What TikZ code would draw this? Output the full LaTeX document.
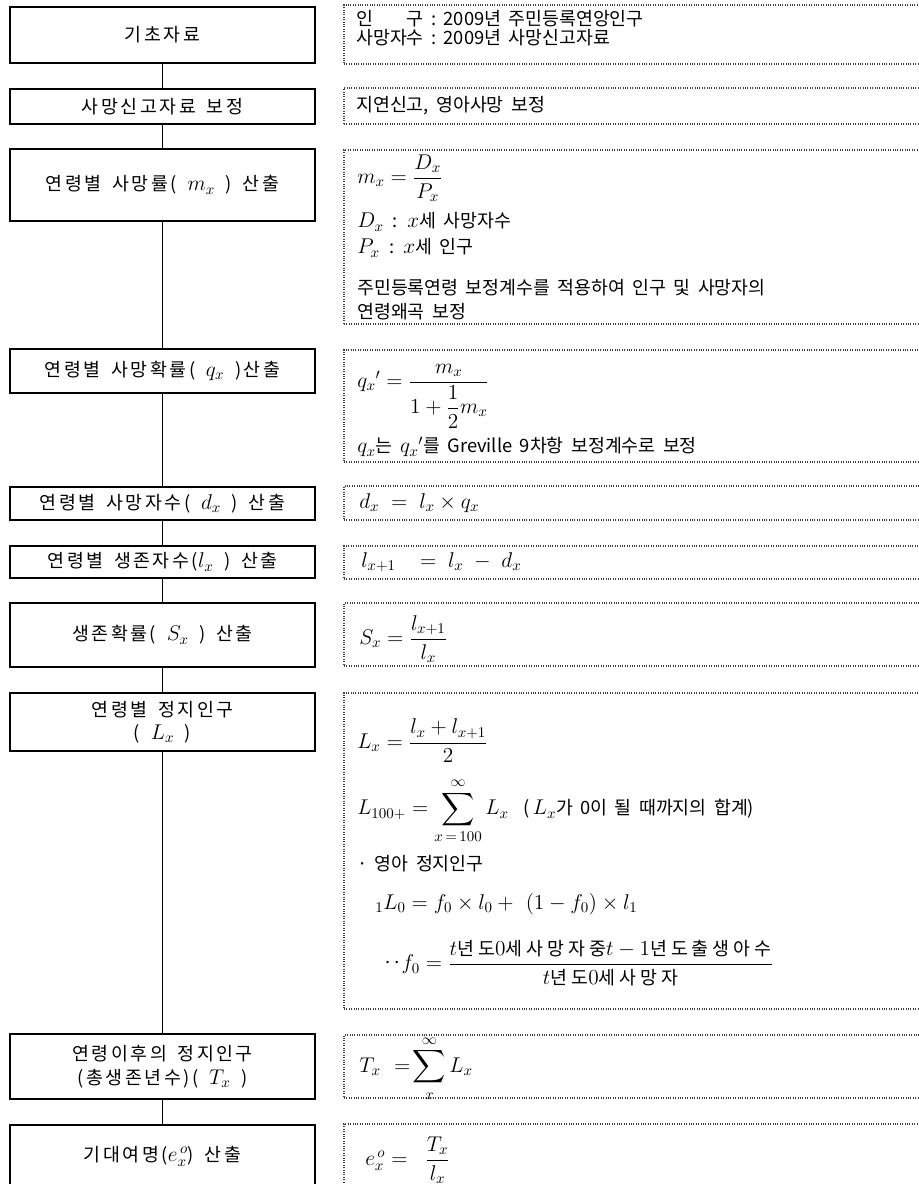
\RequirePackage{fix-cm}
\documentclass[tikz,border=0pt]{standalone}
\usepackage{amsmath}
\usepackage{fontspec}
\newfontfamily\kr{Noto Sans CJK KR}[Scale=0.86,WordSpace=1.8]
\newfontfamily\krw{Noto Sans CJK KR}[Scale=0.86,LetterSpace=14,WordSpace=1.6]
\newfontfamily\krf{Noto Sans CJK KR}[Scale=0.86,LetterSpace=22]
\usetikzlibrary{fit}
\begin{document}
\begin{tikzpicture}[x=0.75pt,y=-0.75pt,
  every node/.style={font=\fontsize{16}{18}\selectfont\kr},
  lbox/.style={draw, line width=1.1pt, inner sep=0pt, align=center,
    minimum width=228.75pt, font=\fontsize{16}{17.5}\selectfont\krw},
  ht/.style={minimum height=#1*0.75pt},
  rbox/.style={draw=black!75, densely dotted, line width=0.8pt, inner sep=0pt},
  txt/.style={anchor=west, inner sep=0pt},
  conn/.style={line width=1pt}]
\useasboundingbox (0,0) rectangle (919,1184);
\clip (0,0) rectangle (919,1184);

% left boxes
\node[lbox, ht=56] (L1) at (162.5,35) {기초자료};
\node[lbox, ht=35] (L2) at (162.5,106.5) {사망신고자료 보정};
\node[lbox, ht=72] (L3) at (162.5,185) {연령별 사망률( $m_x$ ) 산출};
\node[lbox, ht=44] (L4) at (162.5,371) {연령별 사망확률( $q_x$ )산출};
\node[lbox, ht=33] (L5) at (162.5,503.5) {연령별 사망자수( $d_x$ ) 산출};
\node[lbox, ht=32] (L6) at (162.5,562) {연령별 생존자수($l_x$ ) 산출};
\node[lbox, ht=64] (L7) at (162.5,635) {생존확률( $S_x$ ) 산출};
\node[lbox, ht=58] (L8) at (162.5,722) {연령별 정지인구\\( $L_x$ )};
\node[lbox, ht=65] (L9) at (162.5,1066.5) {연령이후의 정지인구\\[1pt](총생존년수)( $T_x$ )};
\node[lbox, ht=62] (L10) at (162.5,1156) {기대여명($e_x^{\,o}$) 산출};

% connectors
\draw[conn] (L1.south) -- (L2.north);
\draw[conn] (L2.south) -- (L3.north);
\draw[conn] (L3.south) -- (L4.north);
\draw[conn] (L4.south) -- (L5.north);
\draw[conn] (L5.south) -- (L6.north);
\draw[conn] (L6.south) -- (L7.north);
\draw[conn] (L7.south) -- (L8.north);
\draw[conn] (L8.south) -- (L9.north);
\draw[conn] (L9.south) -- (L10.north);

% right frames
\node[rbox, fit={(344,5)(935,64)}] (R1) {};
\node[rbox, fit={(344,88)(935,124)}] (R2) {};
\node[rbox, fit={(344,150)(935,324)}] (R3) {};
\node[rbox, fit={(344,350)(935,462)}] (R4) {};
\node[rbox, fit={(344,486)(935,520)}] (R5) {};
\node[rbox, fit={(344,546)(935,579)}] (R6) {};
\node[rbox, fit={(344,603)(935,666)}] (R7) {};
\node[rbox, fit={(344,693)(935,1009)}] (R8) {};
\node[rbox, fit={(344,1035)(935,1098)}] (R9) {};
\node[rbox, fit={(344,1124)(935,1190)}] (R10) {};

% right texts
\node[txt] (t1a) at (356,19) {\settowidth{\dimen0}{사망자수}\makebox[\dimen0][s]{인\hfill 구}\ :\ 2009년 주민등록연앙인구};
\node[txt] (t1b) at (356,38) {사망자수\ :\ 2009년 사망신고자료};
\node[txt] (t2) at (356,106) {지연신고, 영아사망 보정};
\node[txt] (t3a) at (357,178) {$m_x = \dfrac{D_x}{P_x}$};
\node[txt] (t3b) at (357,222) {$D_x$\enspace:\enspace$x$세 사망자수};
\node[txt] (t3c) at (357,248) {$P_x$\enspace:\enspace$x$세 인구};
\node[txt] (t3d) at (357,288) {주민등록연령 보정계수를 적용하여 인구 및 사망자의};
\node[txt] (t3e) at (357,312) {연령왜곡 보정};
\node[txt] (t4a) at (357,396) {$q_x{}' = \dfrac{m_x}{1+\dfrac{1}{2}m_x}$};
\node[txt] (t4b) at (357,447) {$q_x$는 $q_x{}'$를 Greville 9차항 보정계수로 보정};
\node[txt] (t5) at (359,503) {$d_x \;=\; l_x \times q_x$};
\node[txt] (t6) at (361,562) {$l_{x+1} \quad=\; l_x \;-\; d_x$};
\node[txt] (t7) at (359,639) {$S_x = \dfrac{l_{x+1}}{l_x}$};
\node[txt] (t8a) at (357,741) {$L_x = \dfrac{l_x + l_{x+1}}{2}$};
\node[txt] (t8b) at (357,811) {$L_{100+} = \displaystyle\sum_{x\,=\,100}^{\infty} L_x$\ \ (\,$L_x$가 0이 될 때까지의 합계)};
\node[txt] (t8c) at (357,864) {· 영아 정지인구};
\node[txt] (t8d) at (375,904) {${}_1L_0 = f_0 \times l_0 +\ (1-f_0)\times l_1$};
\node[txt] (t8e) at (383,963) {‥$f_0 = \dfrac{t\mbox{\krf 년도}0\mbox{\krf 세사망자중}t-1\mbox{\krf 년도출생아수}}{t\mbox{\krf 년도}0\mbox{\krf 세사망자}}$};
\node[txt] (t9) at (359,1068.5) {$T_x\ =\!\displaystyle\sum_{x}^{\infty} L_x$};
\node[txt] (t10) at (365,1160) {$e_x^{\,o} =\;\; \dfrac{T_x}{l_x}$};
\end{tikzpicture}
\end{document}
